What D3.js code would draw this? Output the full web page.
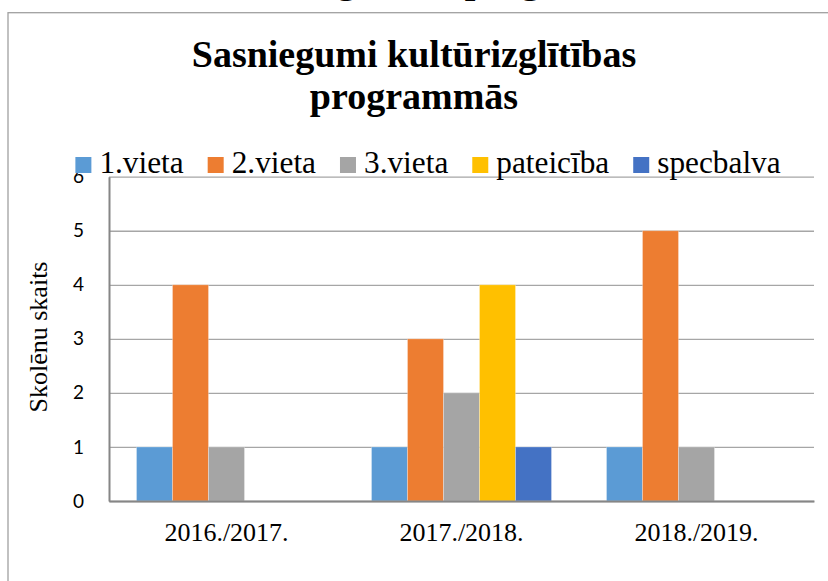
<!DOCTYPE html>
<html>
<head>
<meta charset="utf-8">
<script src="https://cdn.jsdelivr.net/npm/d3@7"></script>
<style>
  body { margin: 0; background: #fff; }
  svg { display: block; }
</style>
</head>
<body>
<div id="chart"></div>
<script>
// data
var categories = ['2016./2017.', '2017./2018.', '2018./2019.'];
var seriesNames = ['1.vieta', '2.vieta', '3.vieta', 'pateicība', 'specbalva'];
var vieta1 = [1, 1, 1];
var vieta2 = [4, 3, 5];
var vieta3 = [1, 2, 1];
var pateiciba = [0, 4, 0];
var specbalva = [0, 1, 0];
var yTicks = [0, 1, 2, 3, 4, 5, 6];
var titleLines = ['Sasniegumi kultūrizglītības', 'programmās'];
var yTitle = 'Skolēnu skaits';

var colors = ['#5B9BD5', '#ED7D31', '#A5A5A5', '#FFC000', '#4472C4'];

var attrs = {
  svgWidth: 828,
  svgHeight: 581,
  marginTop: 176.7,
  marginLeft: 109,
  marginRight: 14,
  marginBottom: 80,
  serif: '"Liberation Serif", "Times New Roman", serif',
  sans: 'Lato, Carlito, "Open Sans", sans-serif'
};

var calc = {};
calc.chartWidth = attrs.svgWidth - attrs.marginLeft - attrs.marginRight;
calc.chartHeight = attrs.svgHeight - attrs.marginTop - attrs.marginBottom;

var allSeries = [vieta1, vieta2, vieta3, pateiciba, specbalva];
var table = categories.map(function (c, i) {
  return { cat: c, values: seriesNames.map(function (s, j) { return { key: s, value: allSeries[j][i], idx: j }; }) };
});

var svg = d3.select('#chart').append('svg')
  .attr('width', attrs.svgWidth)
  .attr('height', attrs.svgHeight);

// chart frame (runs past the right and bottom of the picture)
svg.append('rect')
  .attr('x', 8).attr('y', 12.7)
  .attr('width', 900).attr('height', 700)
  .attr('fill', '#fff')
  .attr('stroke', '#A0A0A0')
  .attr('stroke-width', 1.3);

// heading line above, cut off by the crop (only descenders show)
svg.append('text')
  .attr('x', 206).attr('y', -7.5)
  .attr('font-family', attrs.serif)
  .attr('font-weight', 'bold')
  .attr('font-size', 38)
  .text(titleLines.join(' ').replace('Sasniegumi ', ''));

// title
svg.append('g').selectAll('text')
  .data(titleLines)
  .enter().append('text')
  .attr('x', 414)
  .attr('y', function (d, i) { return 67 + i * 42; })
  .attr('text-anchor', 'middle')
  .attr('font-family', attrs.serif)
  .attr('font-weight', 'bold')
  .attr('font-size', 38)
  .attr('fill', '#000')
  .text(function (d) { return d; });

// scales
var x0 = d3.scaleBand()
  .domain(categories)
  .range([0, calc.chartWidth])
  .paddingInner(55 / 235)
  .paddingOuter(27.5 / 235);

var x1 = d3.scaleBand()
  .domain(seriesNames)
  .range([0, x0.bandwidth()]);

var y = d3.scaleLinear()
  .domain([0, 6])
  .range([calc.chartHeight, 0]);

var chart = svg.append('g')
  .attr('transform', 'translate(' + attrs.marginLeft + ',' + attrs.marginTop + ')');

// gridlines
chart.append('g')
  .call(d3.axisLeft(y).tickValues(yTicks).tickSize(-calc.chartWidth).tickFormat(''))
  .call(function (g) {
    g.select('.domain').remove();
    g.selectAll('line').attr('stroke', '#A6A6A6').attr('stroke-width', 1.3);
  });

// bars
chart.append('g').selectAll('g')
  .data(table)
  .enter().append('g')
  .attr('transform', function (d) { return 'translate(' + x0(d.cat) + ',0)'; })
  .selectAll('rect')
  .data(function (d) { return d.values.filter(function (v) { return v.value > 0; }); })
  .enter().append('rect')
  .attr('x', function (d) { return x1(d.key); })
  .attr('y', function (d) { return y(d.value); })
  .attr('width', x1.bandwidth())
  .attr('height', function (d) { return calc.chartHeight - y(d.value); })
  .attr('fill', function (d) { return colors[d.idx]; })
  .attr('stroke', 'rgba(255,255,255,0.35)')
  .attr('stroke-width', 0.8);

// y axis
var yAxis = chart.append('g')
  .call(d3.axisLeft(y).tickValues(yTicks).tickSize(0).tickPadding(25).tickFormat(d3.format('d')));
yAxis.select('.domain').attr('stroke', '#868686').attr('stroke-width', 2);
yAxis.selectAll('text')
  .attr('font-family', attrs.sans)
  .attr('font-size', 19)
  .attr('fill', '#000');

// x axis
var xAxis = chart.append('g')
  .attr('transform', 'translate(0,' + calc.chartHeight + ')')
  .call(d3.axisBottom(x0).tickSize(0).tickPadding(22));
xAxis.select('.domain').attr('stroke', '#868686').attr('stroke-width', 2.2);
xAxis.selectAll('text')
  .attr('font-family', attrs.serif)
  .attr('font-size', 26)
  .attr('fill', '#000');

// y title
svg.append('text')
  .attr('transform', 'translate(47,337) rotate(-90)')
  .attr('text-anchor', 'middle')
  .attr('font-family', attrs.serif)
  .attr('font-size', 26)
  .attr('fill', '#000')
  .text(yTitle);

// legend (white box behind it covers the top of the "6" label)
var legend = svg.append('g');
var legendBg = legend.append('rect')
  .attr('y', 145).attr('height', 27.5)
  .attr('fill', '#fff');
var items = legend.selectAll('g')
  .data(seriesNames)
  .enter().append('g');
items.append('rect')
  .attr('y', 157).attr('width', 16).attr('height', 16)
  .attr('fill', function (d, i) { return colors[i]; });
items.append('text')
  .attr('x', 24).attr('y', 173)
  .attr('font-family', attrs.serif)
  .attr('font-size', 31.3)
  .attr('fill', '#000')
  .text(function (d) { return d; });

var offs = [], total = 0;
items.each(function () {
  var w = 24 + d3.select(this).select('text').node().getComputedTextLength();
  offs.push(total);
  total += w + 24;
});
total -= 24;
var legendStart = 428 - total / 2;
items.attr('transform', function (d, i) { return 'translate(' + (legendStart + offs[i]) + ',0)'; });
legendBg.attr('x', legendStart - 8).attr('width', total + 16);
</script>
</body>
</html>
